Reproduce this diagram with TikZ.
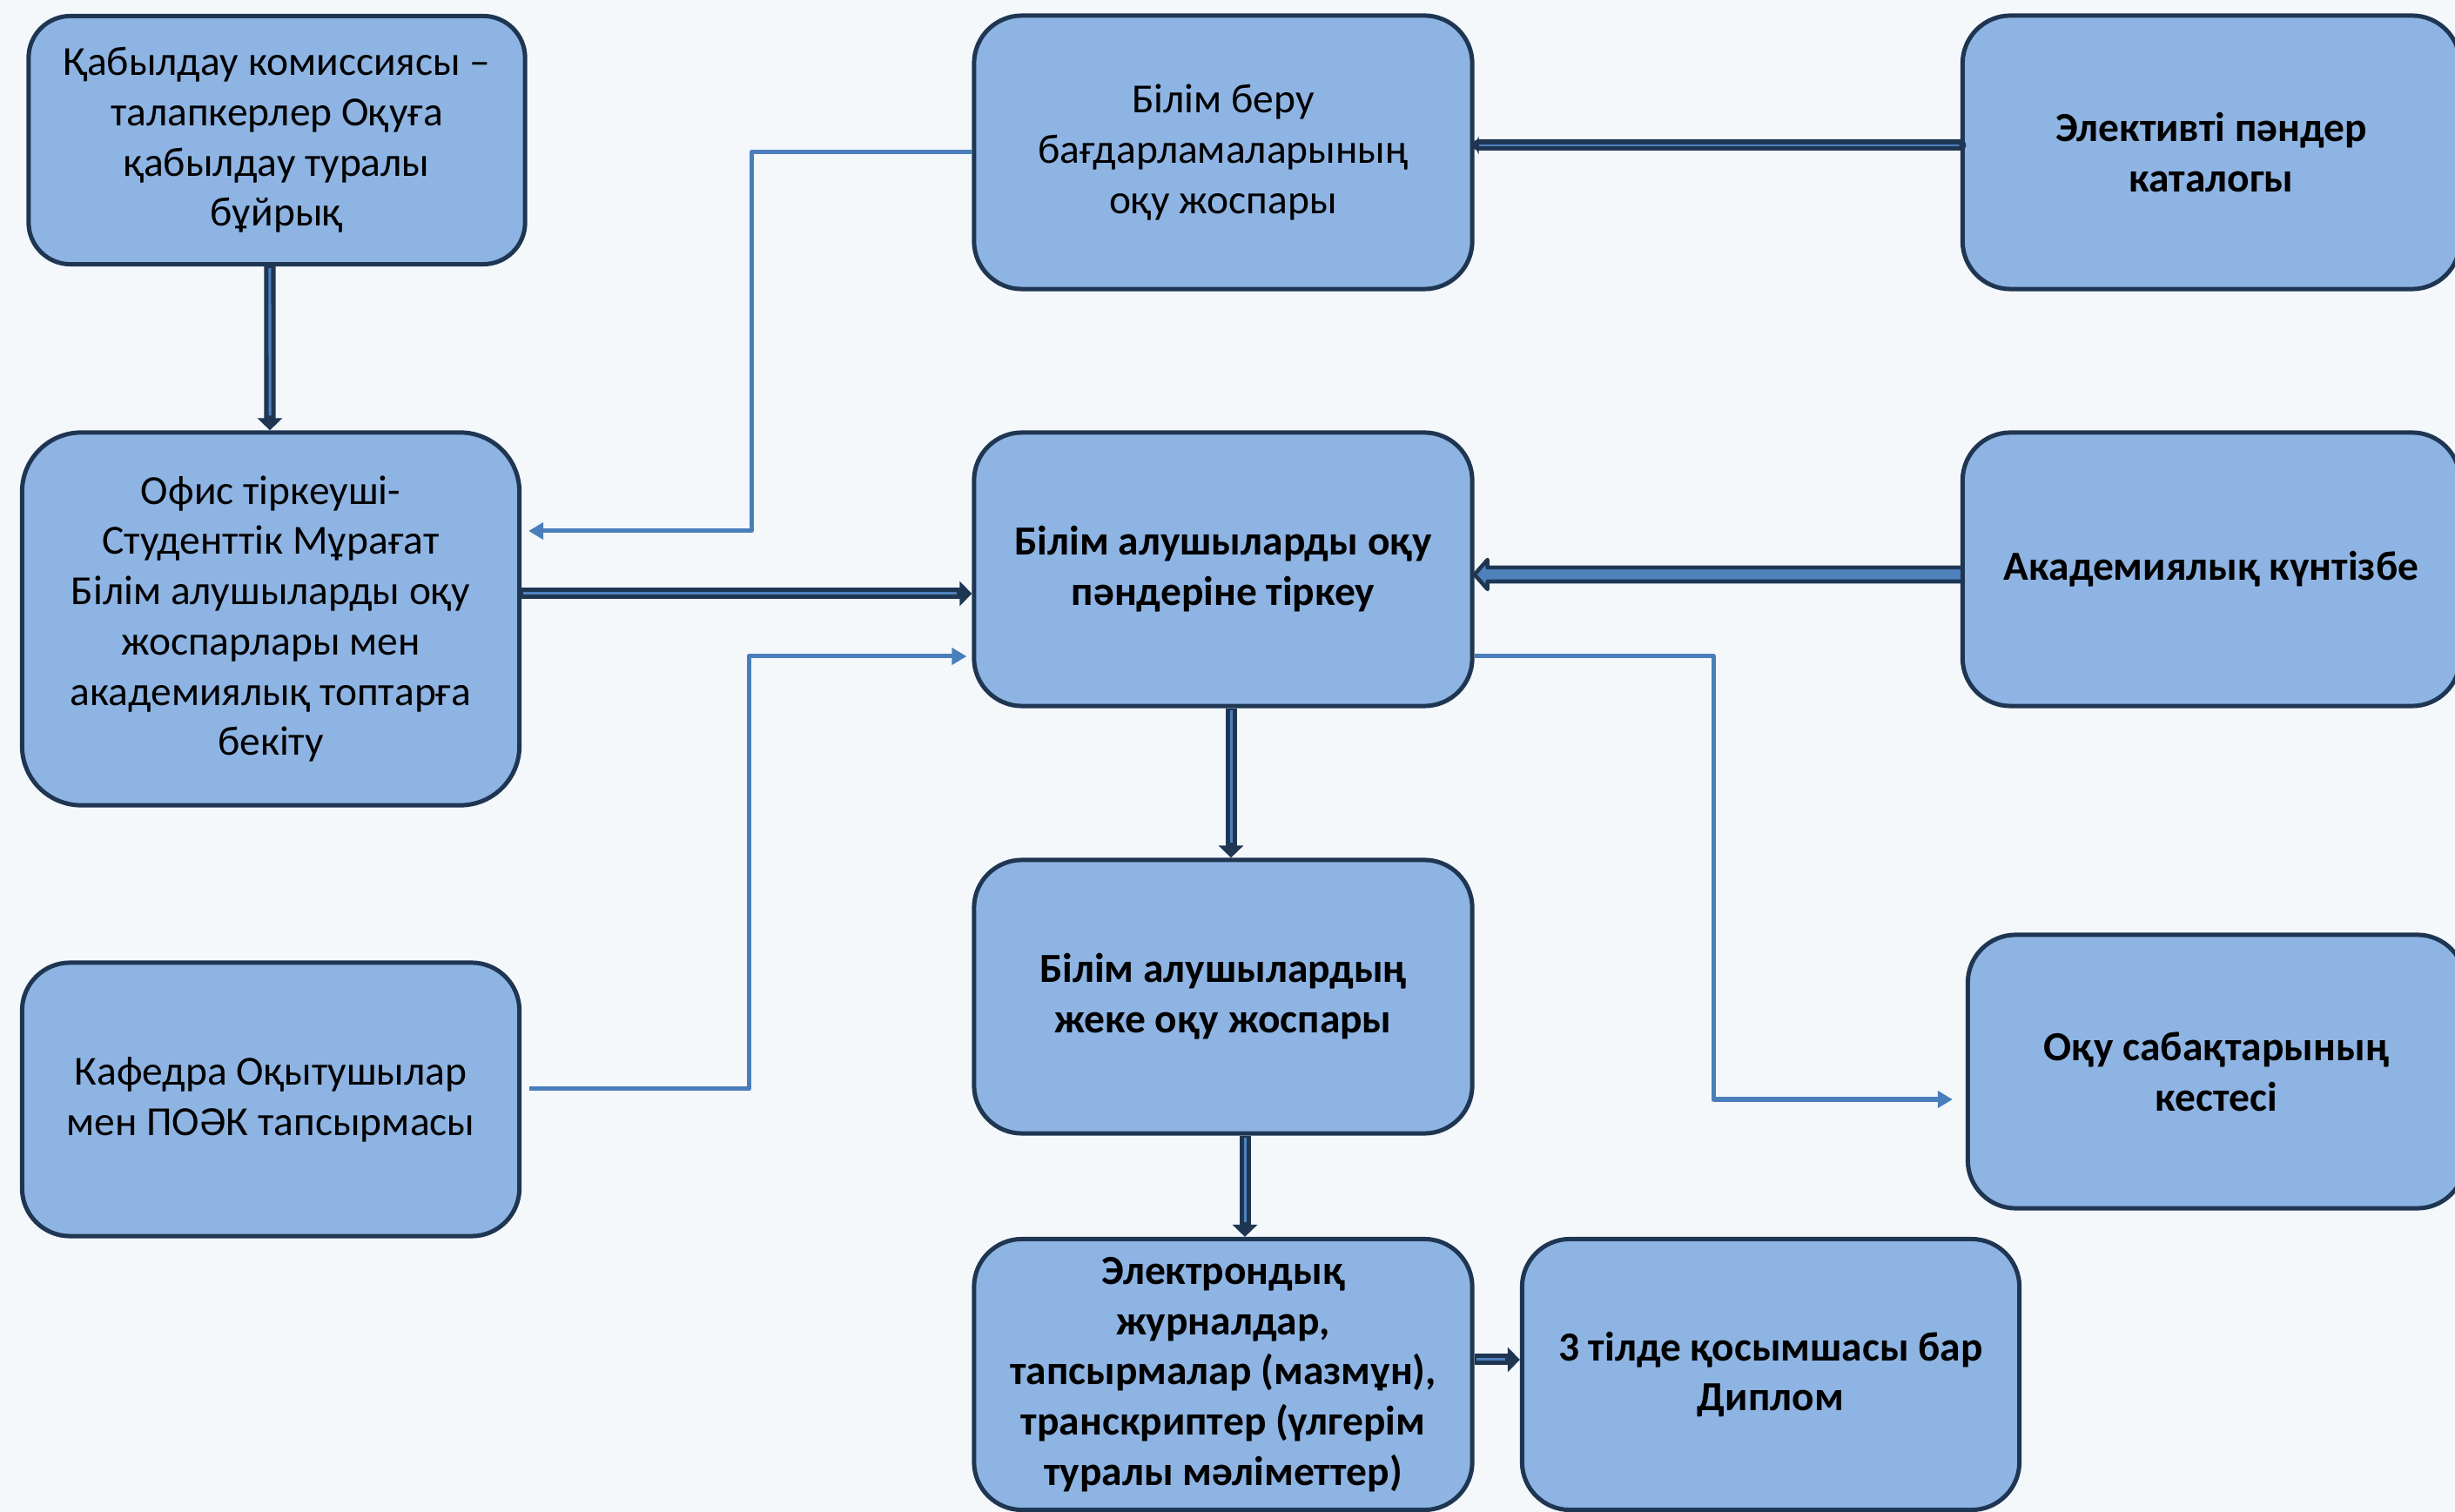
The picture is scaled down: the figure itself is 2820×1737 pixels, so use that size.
\documentclass[tikz,border=0pt]{standalone}
\usepackage{fontspec}
\setmainfont{Carlito}
\usetikzlibrary{arrows.meta,calc}

\definecolor{pageBg}{HTML}{F4F8FB}
\definecolor{boxBlue}{HTML}{8EB4E3}
\definecolor{navyLine}{HTML}{1F3653}
\definecolor{innerBlue}{HTML}{4F81BD}
\definecolor{linkBlue}{HTML}{4A7EBB}

\tikzset{
  stepBox/.style={draw=navyLine, line width=0.05cm, fill=boxBlue, rounded corners=0.55cm,
    minimum width=5.71cm, minimum height=3.14cm, inner sep=0pt, align=center,
    font=\fontsize{13.5pt}{16.4pt}\selectfont},
  boldBox/.style={stepBox, font=\fontsize{13.5pt}{16.4pt}\selectfont\bfseries},
  dblArrow/.style={draw=navyLine, line width=0.13cm, -{Triangle[length=0.14cm,width=0.28cm]},
    postaction={draw=innerBlue, line width=0.03cm, -, shorten >=0.17cm, shorten <=0.02cm}},
  flowLine/.style={draw=linkBlue, line width=0.05cm, line join=round,
    -{Triangle[length=0.17cm,width=0.19cm]}}
}

\begin{document}
\begin{tikzpicture}[x=0.01cm, y=-0.01cm]

   %% kanvas 2820 x 1737 px, y tomen qarai
   \useasboundingbox (0,0) rectangle (2820,1737);
   \clip (0,0) rectangle (2820,1737);
   \fill[pageBg] (0,0) rectangle (2820,1737);

   %% sol baghan
   \node[stepBox, minimum width=5.70cm, minimum height=2.85cm, rounded corners=0.48cm] (komissia) at (318,161)
     {Қабылдау комиссиясы –\\талапкерлер Оқуға\\қабылдау туралы\\бұйрық};
   \node[stepBox, minimum height=4.28cm, rounded corners=0.68cm] (ofis) at (311,711)
     {Офис тіркеуші-\\Студенттік Мұрағат\\Білім алушыларды оқу\\жоспарлары мен\\академиялық топтарға\\бекіту};
   \node[stepBox] (kafedra) at (311,1263)
     {Кафедра Оқытушылар\\мен ПОӘК тапсырмасы};

   %% orta baghan
   \node[stepBox, minimum width=5.72cm] (josparlar) at (1405,175)
     {Білім беру\\бағдарламаларының\\оқу жоспары};
   \node[boldBox, minimum width=5.72cm] (tirkeu) at (1405,654)
     {Білім алушыларды оқу\\пәндеріне тіркеу};
   \node[boldBox, minimum width=5.72cm] (jeke) at (1405,1145)
     {Білім алушылардың\\жеке оқу жоспары};
   \node[boldBox, minimum width=5.72cm, minimum height=3.11cm] (jurnal) at (1405,1579)
     {Электрондық\\журналдар,\\тапсырмалар (мазмұн),\\транскриптер (үлгерім\\туралы мәліметтер)};
   \node[boldBox, minimum height=3.11cm] (diplom) at (2034,1579)
     {3 тілде қосымшасы бар\\Диплом};

   %% on baghan (shetinen kesilgen)
   \node[boldBox] (katalog) at (2540,175) {Элективті пәндер\\каталогы};
   \node[boldBox] (kuntizbe) at (2540,654) {Академиялық күнтізбе};
   \node[boldBox] (keste) at (2546,1231) {Оқу сабақтарының\\кестесі};

   %% qos syzyqty baghyttar
   \coordinate (MidB) at (0,682);
   \draw[dblArrow] ([xshift=-0.08cm]komissia.south) -- ([xshift=-0.01cm]ofis.north);
   \draw[dblArrow] (ofis.east |- MidB) -- (tirkeu.west |- MidB);
   \draw[dblArrow] ([xshift=0.09cm]tirkeu.south) -- ([xshift=0.09cm]jeke.north);
   \draw[dblArrow] ([xshift=0.25cm]jeke.south) -- ([xshift=0.25cm]jurnal.north);
   \draw[dblArrow] ([yshift=0.17cm]jurnal.east) -- ([yshift=0.17cm]diplom.west);

   \draw[draw=navyLine, line width=0.13cm, line cap=round, -{Triangle[length=0.05cm,width=0.21cm]},
         postaction={draw=innerBlue, line width=0.02cm, -, shorten >=0.06cm, shorten <=0.02cm}]
     ([yshift=0.08cm]katalog.west) -- ([yshift=0.08cm]josparlar.east);

   %% kontur baghytty (kuntizbe -> tirkeu)
   \coordinate (TipF) at ([yshift=-0.06cm]tirkeu.east);
   \coordinate (TailF) at ([yshift=-0.06cm]kuntizbe.west);
   \filldraw[fill=innerBlue, draw=navyLine, line width=0.045cm, line join=round]
     ($(TailF)+(0,-8)$) -- ($(TipF)+(15,-8)$) -- ($(TipF)+(15,-17)$) -- (TipF)
     -- ($(TipF)+(15,17)$) -- ($(TipF)+(15,8)$) -- ($(TailF)+(0,8)$);

   %% zhinishke baghyttar
   \coordinate (BendC) at (863,610);
   \coordinate (BendD) at (860,754);
   \coordinate (BendJ) at (1968,1263);
   \draw[flowLine, shorten >=0.08cm] (josparlar.west) -| (BendC) -- (ofis.east |- BendC);
   \draw[flowLine, shorten >=0.06cm] ([xshift=0.09cm,yshift=0.12cm]kafedra.east) -| (BendD) -- (tirkeu.west |- BendD);
   \draw[flowLine, shorten >=0.15cm] (tirkeu.east |- BendD) -| (BendJ) -- (keste.west |- BendJ);

\end{tikzpicture}
\end{document}
